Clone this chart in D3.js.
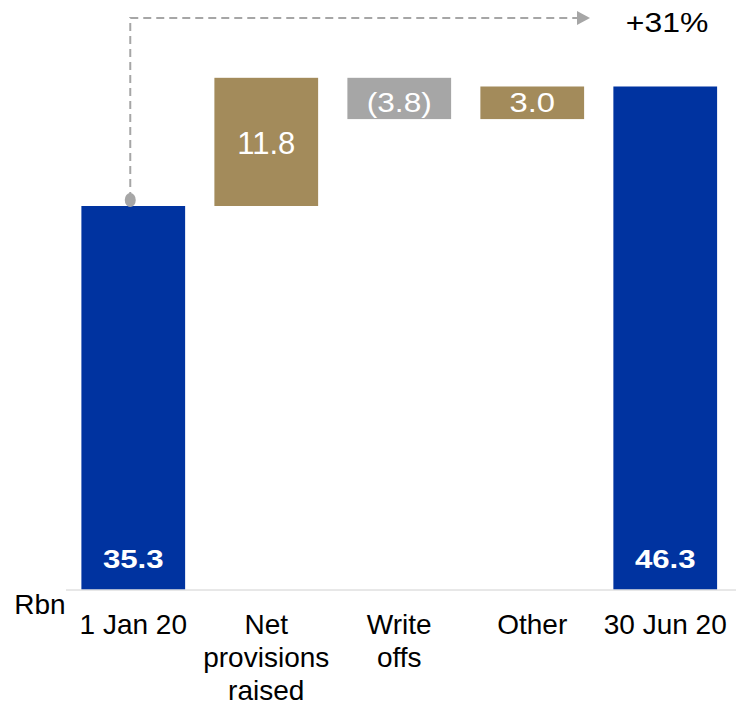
<!DOCTYPE html>
<html>
<head>
<meta charset="utf-8">
<script src="https://cdn.jsdelivr.net/npm/d3@7"></script>
<style>
  html, body { margin: 0; padding: 0; background: #fff; }
  svg { display: block; font-family: "Liberation Sans", Arial, sans-serif; }
</style>
</head>
<body>
<svg id="chart" width="736" height="705"></svg>
<script>
// Loan loss allowance bridge, Rbn
const categories = ["1 Jan 20", "Net provisions raised", "Write offs", "Other", "30 Jun 20"];
const categoryLines = [["1 Jan 20"], ["Net", "provisions", "raised"], ["Write", "offs"], ["Other"], ["30 Jun 20"]];
const kinds = ["total", "delta", "delta", "delta", "total"];
const values = [35.3, 11.8, -3.8, 3.0, 46.3];
const valueLabels = ["35.3", "11.8", "(3.8)", "3.0", "46.3"];
const changeLabel = "+31%";
const unitLabel = "Rbn";

const colors = { total: "#0033A0", up: "#A38B5B", down: "#A6A6A6" };

// Label typography per bar: font size, horizontal stretch, vertical nudge
const labelStyle = [
  { size: 26, sx: 1.2, dy: 0 },
  { size: 31, sx: 1.0, dy: 1 },
  { size: 27.5, sx: 1.15, dy: 4 },
  { size: 28, sx: 1.17, dy: -1 },
  { size: 26, sx: 1.2, dy: 0 }
];

const svg = d3.select("#chart");

const x = d3.scaleBand()
  .domain(categories)
  .range([66.5, 732])
  .paddingInner(0.22)
  .paddingOuter(0.112);

const y = d3.scaleLinear()
  .domain([0, 50])
  .range([589.5, 46.3]);

// Build floating segments
let running = 0;
const bars = categories.map((c, i) => {
  let lo, hi;
  if (kinds[i] === "total") {
    lo = 0; hi = values[i]; running = values[i];
  } else {
    const start = running;
    running = start + values[i];
    lo = Math.min(start, running); hi = Math.max(start, running);
  }
  const fill = kinds[i] === "total" ? colors.total : (values[i] >= 0 ? colors.up : colors.down);
  return { c, lo, hi, fill, label: valueLabels[i], kind: kinds[i], st: labelStyle[i] };
});

svg.selectAll("rect.bar")
  .data(bars)
  .join("rect")
  .attr("class", "bar")
  .attr("x", d => x(d.c))
  .attr("width", x.bandwidth())
  .attr("y", d => y(d.hi))
  .attr("height", d => y(d.lo) - y(d.hi))
  .attr("fill", d => d.fill);

// Baseline
svg.append("line")
  .attr("x1", 66).attr("x2", 736)
  .attr("y1", y(0) + 0.5).attr("y2", y(0) + 0.5)
  .attr("stroke", "#D0D0D0").attr("stroke-width", 1);

// Value labels
svg.selectAll("text.val")
  .data(bars)
  .join("text")
  .attr("class", "val")
  .attr("transform", d => {
    const cx = x(d.c) + x.bandwidth() / 2;
    const cy = (d.kind === "total" ? y(0) - 31 : (y(d.hi) + y(d.lo)) / 2) + d.st.dy;
    return `translate(${cx},${cy}) scale(${d.st.sx},1)`;
  })
  .attr("dy", "0.35em")
  .attr("text-anchor", "middle")
  .attr("fill", "#fff")
  .attr("font-size", d => d.st.size)
  .attr("font-weight", d => d.kind === "total" ? "bold" : "normal")
  .text(d => d.label);

// Category labels
const catG = svg.selectAll("text.cat")
  .data(categories)
  .join("text")
  .attr("class", "cat")
  .attr("text-anchor", "middle")
  .attr("font-size", 28)
  .attr("fill", "#000");
catG.selectAll("tspan")
  .data((d, i) => categoryLines[i].map(t => ({ t, c: d })))
  .join("tspan")
  .attr("x", d => x(d.c) + x.bandwidth() / 2)
  .attr("y", (d, j) => 634 + j * 33)
  .text(d => d.t);

svg.append("text")
  .attr("x", 40).attr("y", 614)
  .attr("text-anchor", "middle")
  .attr("font-size", 28)
  .text(unitLabel);

// Growth arrow from opening balance
const cx0 = x(categories[0]) + x.bandwidth() / 2 - 3;
const topY = 18;
const arrowEnd = 590;
svg.append("path")
  .attr("d", `M${cx0},${y(values[0]) - 6} V${topY} H${arrowEnd - 12}`)
  .attr("fill", "none")
  .attr("stroke", "#A6A6A6")
  .attr("stroke-width", 2)
  .attr("stroke-dasharray", "8,5");
svg.append("path")
  .attr("d", `M${arrowEnd - 13},${topY - 7} L${arrowEnd},${topY} L${arrowEnd - 13},${topY + 7} Z`)
  .attr("fill", "#A6A6A6");
svg.append("ellipse")
  .attr("cx", cx0).attr("cy", y(values[0]) - 6)
  .attr("rx", 5.5).attr("ry", 7)
  .attr("fill", "#A6A6A6");

svg.append("text")
  .attr("transform", "translate(667,22) scale(1.14,1)")
  .attr("dy", "0.35em")
  .attr("text-anchor", "middle")
  .attr("font-size", 28)
  .text(changeLabel);
</script>
</body>
</html>
